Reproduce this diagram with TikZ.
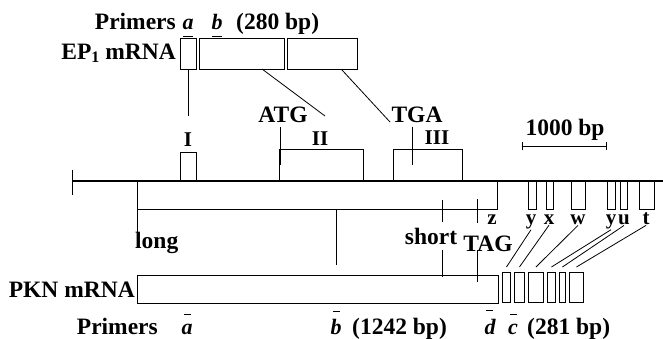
\documentclass[tikz,border=0pt]{standalone}
\usepackage{fontspec}
\setmainfont{Liberation Serif}
\begin{document}
\begin{tikzpicture}[x=1pt,y=-1pt,
  lab/.style={font=\fontsize{23.5}{23.5}\selectfont\bfseries, inner sep=0pt},
  rom/.style={font=\fontsize{21}{21}\selectfont\bfseries, inner sep=0pt},
  small/.style={font=\fontsize{21}{21}\selectfont\bfseries, inner sep=0pt},
  prim/.style={font=\fontsize{22}{22}\selectfont\bfseries\itshape, inner sep=0pt},
  box/.style={draw, line width=0.9pt},
  thin/.style={line width=0.8pt},
  axis/.style={line width=1.8pt}]
\useasboundingbox (0,0) rectangle (663,339);

% ---- top primers ----
\node[lab, anchor=base east] (ptop) at (176,30) {Primers};
\node[prim, anchor=base] (pa) at (188,30) {a};
\node[prim, anchor=base] (pb) at (217,30) {b};
\node[lab, anchor=base west] (p280) at (236,30) {(280 bp)};
\draw[thin] ([xshift=-5pt,yshift=-6pt]pa.base) -- ([xshift=5pt,yshift=-6pt]pa.base);
\draw[thin] ([xshift=-5pt,yshift=-6pt]pb.base) -- ([xshift=5pt,yshift=-6pt]pb.base);

% ---- EP1 mRNA ----
\node[lab, anchor=base east] (ep1) at (176,60) {EP\raisebox{-3pt}{\fontsize{16}{16}\selectfont 1} mRNA};
\draw[box] (180,38) rectangle (196,69);
\draw[box] (199,38) rectangle (284,69);
\draw[box] (287,38) rectangle (357,69);
\coordinate (e1) at (188,69);
\coordinate (e2) at (262,69);
\coordinate (e3) at (342,70);
\coordinate (g1) at (188,116);
\coordinate (g2) at (325,116);
\coordinate (g3) at (390,122);
\draw[thin] (e1) -- (g1);
\draw[thin] (e2) -- (g2);
\draw[thin] (e3) -- (g3);

% ---- genomic ----
\node[lab, anchor=base] (atg) at (283,123) {ATG};
\node[lab, anchor=base] (tga) at (417,123) {TGA};
\node[rom, anchor=base] (rI) at (188,147) {I};
\node[rom, anchor=base] (rII) at (320,146) {II};
\node[rom, anchor=base] (rIII) at (437,145) {III};
\draw[box] (180,152) rectangle (196,181);
\draw[box] (279,149) rectangle (363,181);
\draw[box] (393,149) rectangle (462,181);
\coordinate (atgA) at (280,127);
\coordinate (atgB) at (280,165);
\coordinate (tgaA) at (412,127);
\coordinate (tgaB) at (412,165);
\draw[thin] (atgA) -- (atgB);
\draw[thin] (tgaA) -- (tgaB);

\coordinate (axL) at (72,181);
\coordinate (axR) at (663,181);
\draw[axis] (axL) -- (axR);
\draw[thin] (72,170) -- (72,195);

% scale bar
\node[lab, anchor=base] (kb) at (565,136) {1000 bp};
\draw[thin] (522,146) -- (606,146);
\draw[thin] (522,142) -- (522,150);
\draw[thin] (606,142) -- (606,150);

% lower rectangle under axis
\draw[thin] (137,181) -- (137,236);
\draw[thin] (137,209) -- (497,209) -- (497,181);
\coordinate (midA) at (336,209);
\coordinate (midB) at (336,265);
\draw[thin] (midA) -- (midB);
\draw[thin] (442,200) -- (442,222);
\draw[thin] (477,199) -- (477,223);
\draw[thin] (442,250) -- (442,277);
\draw[thin] (477,250) -- (477,282);

% exons 3'
\draw[box] (528,181) rectangle (536,209);
\draw[box] (546,181) rectangle (553,209);
\draw[box] (571,181) rectangle (585,209);
\draw[box] (607,181) rectangle (615,209);
\draw[box] (620,181) rectangle (627,209);
\draw[box] (639,181) rectangle (654,209);

\node[small, anchor=base] (lz) at (492,224) {z};
\node[small, anchor=base] (ly1) at (531,224) {y};
\node[small, anchor=base] (lx) at (549,224) {x};
\node[small, anchor=base] (lw) at (578,224) {w};
\node[small, anchor=base] (ly2) at (611,224) {y};
\node[small, anchor=base] (lu) at (624,224) {u};
\node[small, anchor=base] (lt) at (646,224) {t};

\node[lab, anchor=base west] (long) at (135,248) {long};
\node[lab, anchor=base] (short) at (431,244) {short};
\node[lab, anchor=base] (tag) at (488,251) {TAG};

% ---- PKN mRNA ----
\node[lab, anchor=base east] (pkn) at (135,297) {PKN mRNA};
\draw[box] (137,275) rectangle (498,303);
\node[box, anchor=north west, minimum width=8pt, minimum height=30pt, inner sep=0] (m1) at (502,272) {};
\node[box, anchor=north west, minimum width=10pt, minimum height=30pt, inner sep=0] (m2) at (514,272) {};
\node[box, anchor=north west, minimum width=15pt, minimum height=30pt, inner sep=0] (m3) at (528,272) {};
\node[box, anchor=north west, minimum width=8pt, minimum height=30pt, inner sep=0] (m4) at (547,272) {};
\node[box, anchor=north west, minimum width=6pt, minimum height=30pt, inner sep=0] (m5) at (559,272) {};
\node[box, anchor=north west, minimum width=14pt, minimum height=30pt, inner sep=0] (m6) at (569,272) {};

\draw[thin] ([yshift=-1pt]ly1.south) -- ([yshift=5pt]m1.north);
\draw[thin] ([yshift=-1pt]lx.south) -- ([yshift=5pt]m2.north);
\draw[thin] ([yshift=-1pt]lw.south) -- ([yshift=5pt]m3.north);
\draw[thin] ([yshift=-1pt]ly2.south) -- ([yshift=5pt]m4.north);
\draw[thin] ([yshift=-1pt]lu.south) -- ([yshift=5pt]m5.north);
\draw[thin] ([yshift=-1pt]lt.south) -- ([yshift=5pt]m6.north);

% ---- bottom primers ----
\node[lab, anchor=base east] (pbot) at (158,334) {Primers};
\node[prim, anchor=base] (qa) at (187,334) {a};
\node[prim, anchor=base] (qb) at (336,334) {b};
\node[lab, anchor=base west] (p1242) at (352,334) {(1242 bp)};
\node[prim, anchor=base] (qd) at (490,334) {d};
\node[prim, anchor=base] (qc) at (513,334) {c};
\node[lab, anchor=base west] (p281) at (527,334) {(281 bp)};
\draw[thin] ([xshift=-3pt]qa.base |- 0,314) -- ([xshift=4pt]qa.base |- 0,314);
\draw[thin] ([xshift=-3pt]qb.base |- 0,311) -- ([xshift=4pt]qb.base |- 0,311);
\draw[thin] ([xshift=-4pt]qd.base |- 0,310) -- ([xshift=3pt]qd.base |- 0,310);
\draw[thin] ([xshift=-3pt]qc.base |- 0,314) -- ([xshift=4pt]qc.base |- 0,314);
\end{tikzpicture}
\end{document}
